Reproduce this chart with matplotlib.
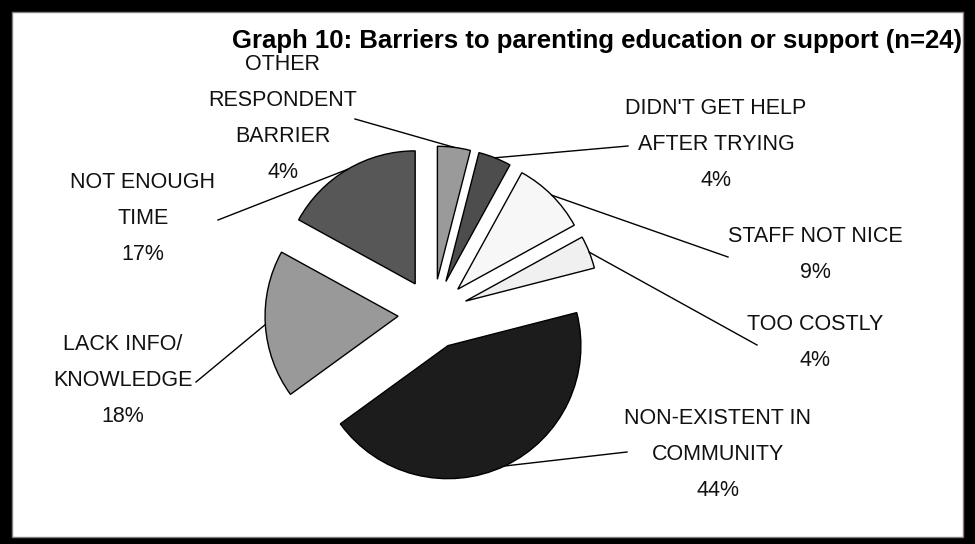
import numpy as np
import matplotlib
matplotlib.use("Agg")
import matplotlib.pyplot as plt
from matplotlib.patches import Rectangle

# data, clockwise from 12 o'clock
labels = ["OTHER\nRESPONDENT\nBARRIER", "DIDN'T GET HELP\nAFTER TRYING", "STAFF NOT NICE",
          "TOO COSTLY", "NON-EXISTENT IN\nCOMMUNITY", "LACK INFO/\nKNOWLEDGE", "NOT ENOUGH\nTIME"]
shares = [4, 4, 9, 4, 44, 18, 17]
colors = ["#9a9a9a", "#4d4d4d", "#f7f7f7", "#f0f0f0", "#1c1c1c", "#999999", "#575757"]

# label placement (pixels, first line centre) and leader line ends
label_pos = [(283, 65), (716, 108), (815, 237), (815, 325), (718, 418), (123, 345), (143, 183)]
leader_end = [(355, 119), (628, 146), (728, 257), (757, 345), (627, 452), (196, 382), (218, 220)]

fonts = ["Liberation Sans Narrow", "Liberation Sans", "DejaVu Sans"]

W, H = 975, 544
fig = plt.figure(figsize=(W / 100, H / 100), dpi=100, facecolor="black")
ax = fig.add_axes([0, 0, 1, 1])

center = (433, 314)
radius = 133
wedges, _ = ax.pie(shares, colors=colors, startangle=-90, counterclock=True,
                   center=center, radius=radius, explode=[35] * len(shares),
                   wedgeprops=dict(edgecolor="black", linewidth=1))

ax.set_xlim(0, W)
ax.set_ylim(H, 0)
ax.set_aspect("equal")
ax.axis("off")

# white panel inside black frame
ax.add_patch(Rectangle((12, 12), 951, 525, facecolor="white", edgecolor="#808080",
                       linewidth=1, zorder=-1))

for w, lab, s, (lx, ly), (ex, ey) in zip(wedges, labels, shares, label_pos, leader_end):
    mid = np.deg2rad((w.theta1 + w.theta2) / 2)
    cx, cy = w.center
    sx = cx + w.r * np.cos(mid)
    sy = cy + w.r * np.sin(mid)
    ax.plot([sx, ex], [sy, ey], color="black", linewidth=1)
    lines = lab.split("\n") + [f"{s}%"]
    for i, t in enumerate(lines):
        ax.text(lx, ly + i * 36, t, ha="center", va="center", fontsize=15.5,
                family=fonts, color="#111111")

ax.text(962, 48, "Graph 10: Barriers to parenting education or support (n=24)",
        ha="right", va="baseline", fontsize=18.5, fontweight="bold", family=fonts)

fig.savefig("out.png", dpi=100, facecolor="black")
